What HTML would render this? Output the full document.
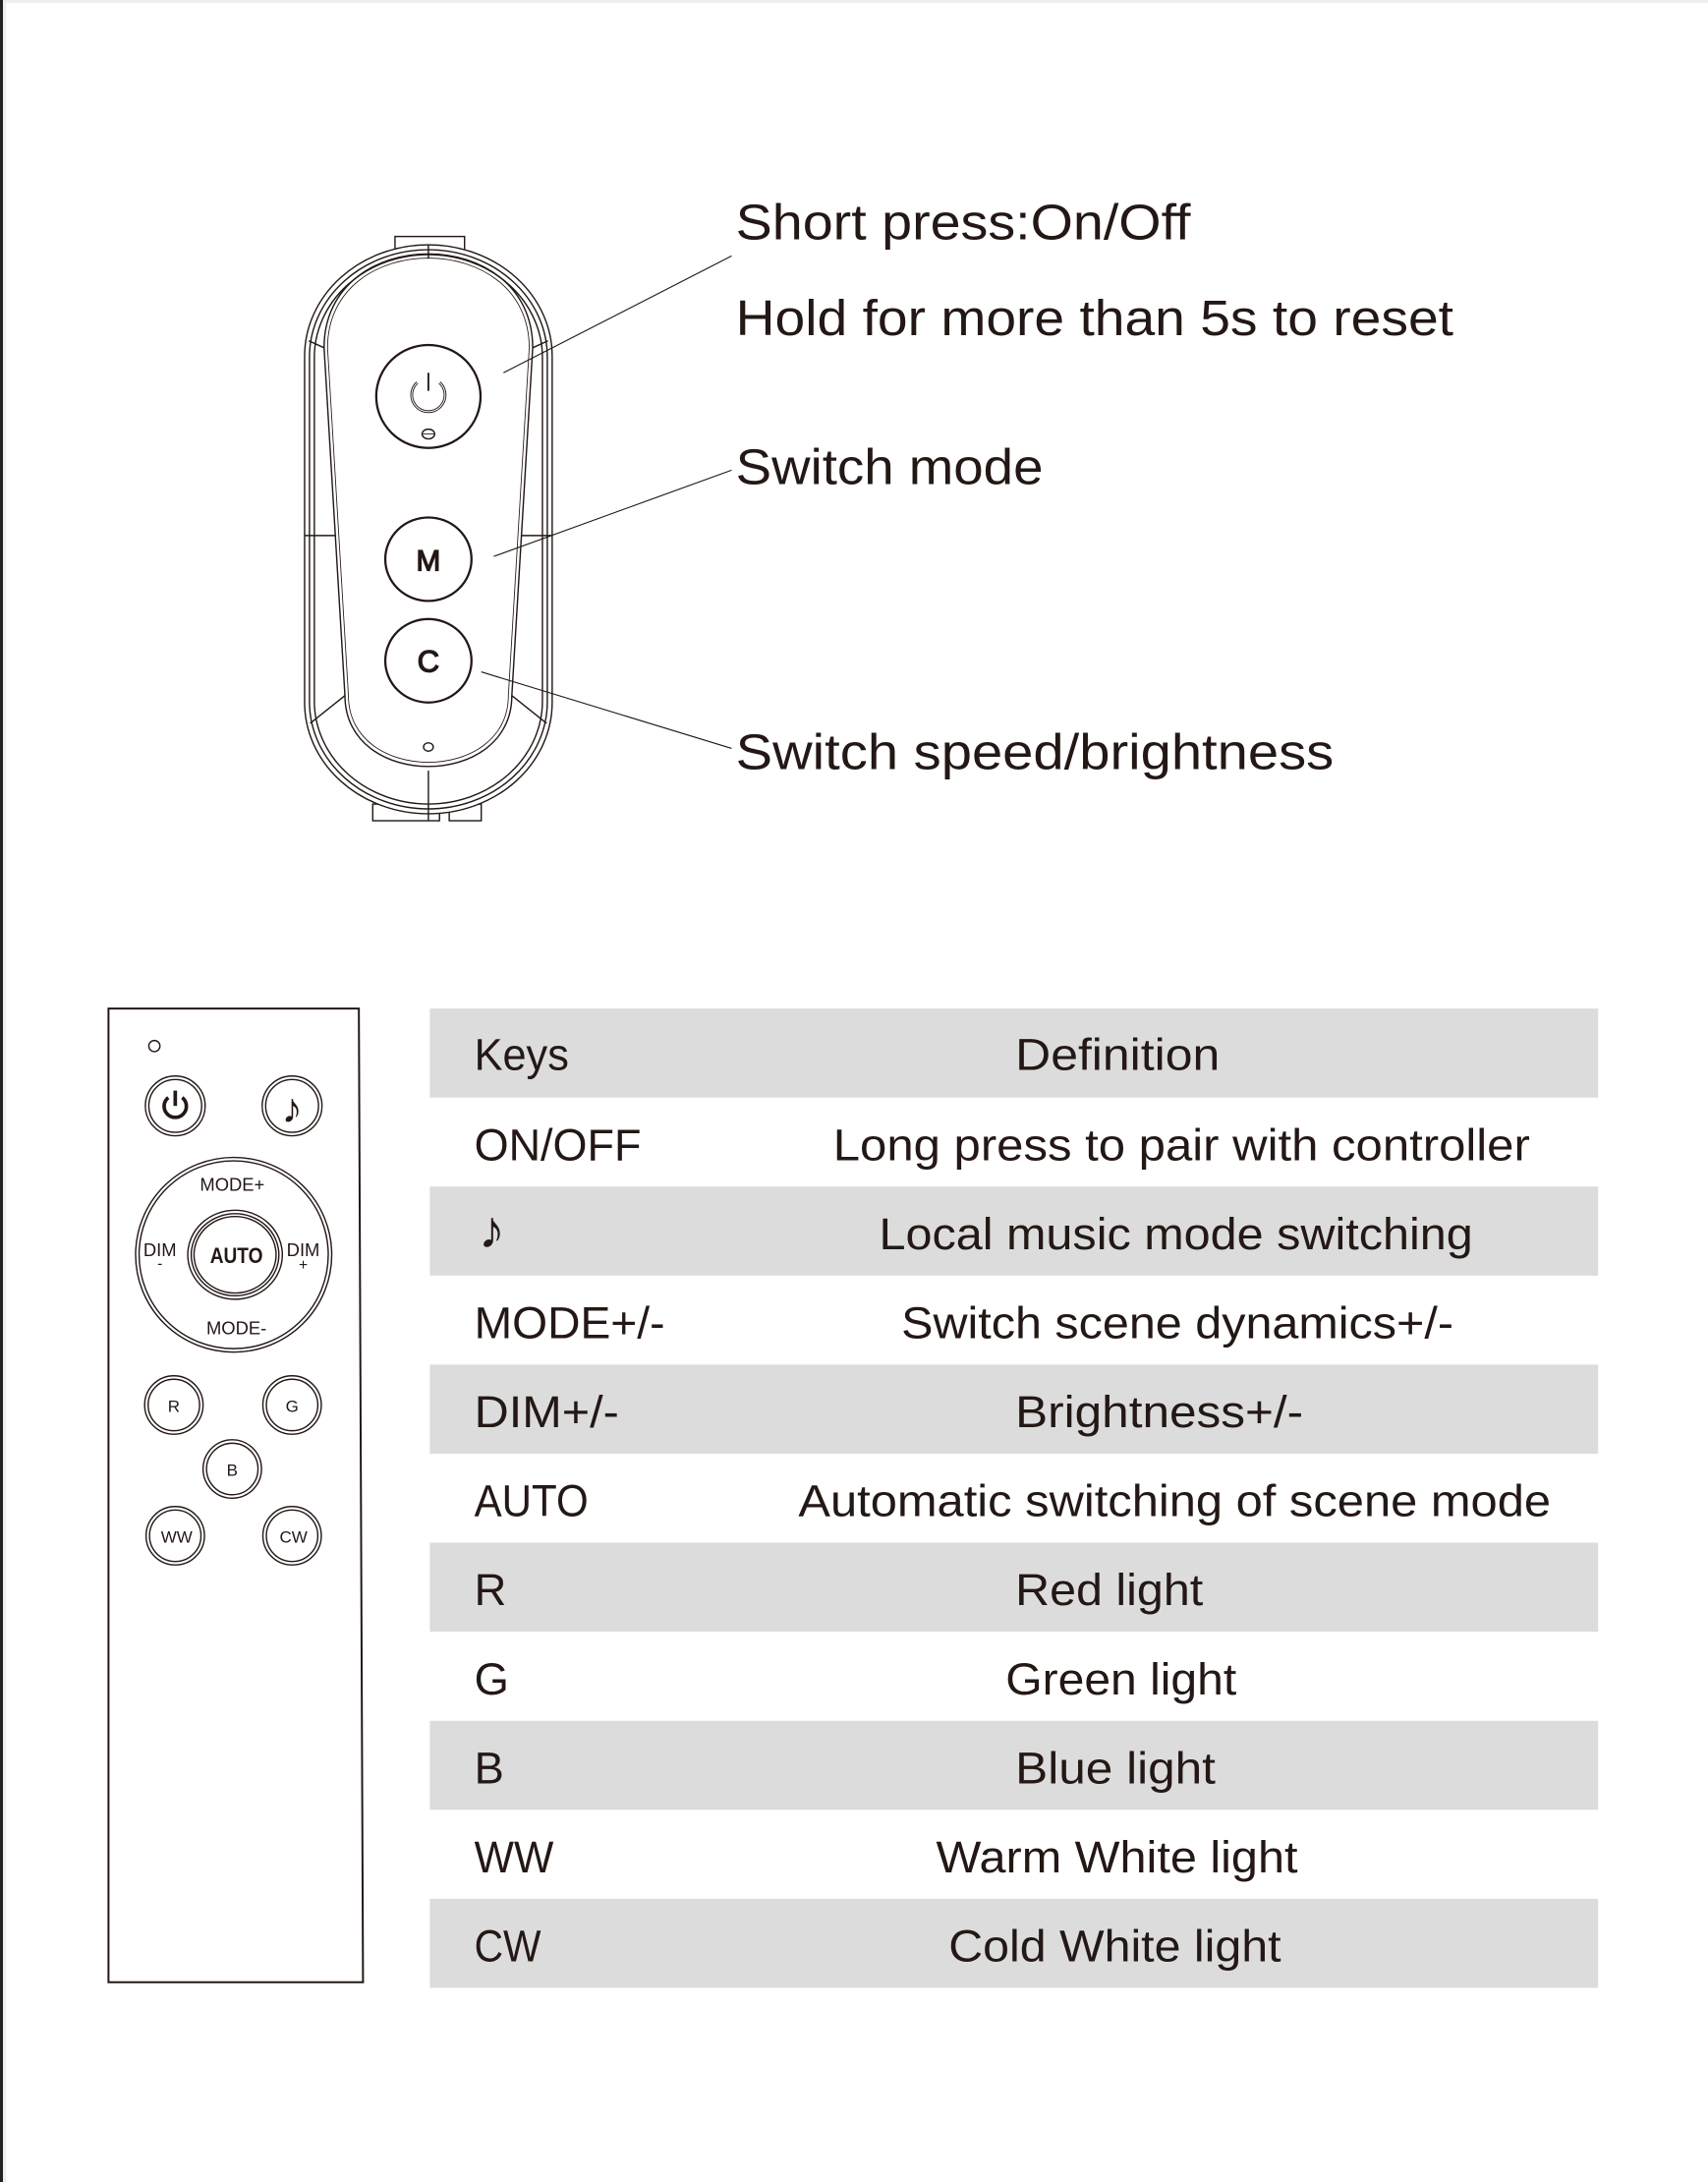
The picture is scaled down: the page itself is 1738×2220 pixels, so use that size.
<!DOCTYPE html>
<html><head><meta charset="utf-8"><style>
html,body{margin:0;padding:0;background:#fff;}
svg{display:block;}
text{font-family:"Liberation Sans","DejaVu Sans",sans-serif;fill:#231815;}
</style></head><body>
<svg width="1738" height="2220" viewBox="0 0 1738 2220" xmlns="http://www.w3.org/2000/svg">
<rect x="0" y="0" width="1738" height="2220" fill="#fff"/>
<rect x="0" y="0" width="1738" height="3" fill="#eee"/>
<rect x="0" y="0" width="3" height="2220" fill="#222"/>
<rect x="3" y="0" width="3" height="2220" fill="#eee"/>

<g transform="scale(1.4153)">
<!-- top remote -->
<g fill="none" stroke="#231815" stroke-width="1">
  <rect x="284" y="170" width="50" height="12" fill="#fff"/>
  <rect x="268" y="578" width="48" height="12" fill="#fff"/>
  <rect x="323" y="578" width="23" height="12" fill="#fff"/>
  <rect x="219" y="176" width="178" height="409" rx="89" ry="80" fill="#fff"/>
  <rect x="222.5" y="179.5" width="171" height="402" rx="85.5" ry="77"/>
  <rect x="226" y="183" width="164" height="395" rx="82" ry="74"/>
  <path d="M233,250 C233,160 383,160 383,250 L368,500 C368,568 248,568 248,500 Z"/>
  <path d="M235.5,250 C235.5,164 380.5,164 380.5,250 L365.5,500 C365.5,564 250.5,564 250.5,500 Z" stroke-width="0.6"/>
  <line x1="308" y1="176" x2="308" y2="186"/>
  <line x1="308" y1="554" x2="308" y2="590"/>
  <line x1="219" y1="385" x2="241" y2="385"/>
  <line x1="375" y1="385" x2="397" y2="385"/>
  <line x1="248" y1="500" x2="223" y2="520"/>
  <line x1="368" y1="500" x2="393" y2="520"/>
  <line x1="233" y1="250" x2="222" y2="245"/>
  <line x1="383" y1="250" x2="394" y2="245"/>
  <ellipse cx="308" cy="285" rx="37.5" ry="37" stroke-width="1.6"/>
  <path d="M300,275 A12,12 0 1 0 316,275" stroke-width="2"/>
  <path d="M300,275 A12,12 0 1 0 316,275" stroke="#fff" stroke-width="0.7"/>
  <line x1="308" y1="268" x2="308" y2="281" stroke-width="1.3"/>
  <ellipse cx="308" cy="312" rx="4.5" ry="3.5"/>
  <line x1="304" y1="312" x2="312" y2="312" stroke-width="0.6"/>
  <ellipse cx="308" cy="402" rx="31" ry="30" stroke-width="1.6"/>
  <ellipse cx="308" cy="475" rx="31" ry="30" stroke-width="1.6"/>
  <ellipse cx="308" cy="537" rx="3.5" ry="3"/>
</g>
<text x="308" y="410" font-size="21" text-anchor="middle" fill="none" stroke="#231815" stroke-width="0.9">M</text>
<text x="308" y="483" font-size="22" text-anchor="middle" fill="none" stroke="#231815" stroke-width="0.9">C</text>

<!-- leader lines -->
<g stroke="#231815" stroke-width="0.8">
  <line x1="526" y1="184" x2="362" y2="268"/>
  <line x1="526" y1="338" x2="355" y2="400"/>
  <line x1="526" y1="538" x2="346" y2="483"/>
</g>
<g font-size="36">
<text x="529" y="172" textLength="327" lengthAdjust="spacingAndGlyphs">Short press:On/Off</text>
<text x="529" y="241" textLength="516" lengthAdjust="spacingAndGlyphs">Hold for more than 5s to reset</text>
<text x="529" y="348" textLength="221" lengthAdjust="spacingAndGlyphs">Switch mode</text>
<text x="529" y="553" textLength="430" lengthAdjust="spacingAndGlyphs">Switch speed/brightness</text>
</g>

<!-- bottom remote -->
<g fill="none" stroke="#231815" stroke-width="1">
  <path d="M78,725 L258,725 L261,1425 L78,1425 Z" stroke-width="1.4"/>
  <circle cx="111" cy="752" r="4"/>
  <circle cx="126" cy="795" r="21.5"/><circle cx="126" cy="795" r="19"/>
  <circle cx="210" cy="795" r="21.5"/><circle cx="210" cy="795" r="19"/>
  <path d="M121,789 A8,8 0 1 0 131,789" stroke-width="2.6"/>
  <line x1="126" y1="784" x2="126" y2="795" stroke-width="2.6"/>
  <ellipse cx="168" cy="902" rx="70.5" ry="70"/>
  <ellipse cx="168" cy="902" rx="68" ry="67.5"/>
  <ellipse cx="169" cy="902" rx="34" ry="32"/>
  <ellipse cx="169" cy="902" rx="31.5" ry="29.5"/>
  <ellipse cx="169" cy="902" rx="29.5" ry="27.5"/>
  <circle cx="125" cy="1010" r="21"/><circle cx="125" cy="1010" r="18.5"/>
  <circle cx="210" cy="1010" r="21"/><circle cx="210" cy="1010" r="18.5"/>
  <circle cx="167" cy="1056" r="21"/><circle cx="167" cy="1056" r="18.5"/>
  <circle cx="126" cy="1104" r="21"/><circle cx="126" cy="1104" r="18.5"/>
  <circle cx="210" cy="1104" r="21"/><circle cx="210" cy="1104" r="18.5"/>
</g>
<text x="210" y="807" font-size="30" text-anchor="middle" fill="#000">♪</text>
<text x="167" y="856" font-size="13" text-anchor="middle">MODE+</text>
<text x="170" y="959" font-size="13" text-anchor="middle">MODE-</text>
<text x="115" y="903" font-size="13" text-anchor="middle">DIM</text>
<text x="115" y="912" font-size="11" text-anchor="middle">-</text>
<text x="218" y="903" font-size="13" text-anchor="middle">DIM</text>
<text x="218" y="913" font-size="11" text-anchor="middle">+</text>
<text x="170" y="908" font-size="16" font-weight="bold" text-anchor="middle" textLength="38" lengthAdjust="spacingAndGlyphs">AUTO</text>
<text x="125" y="1015" font-size="12" text-anchor="middle">R</text>
<text x="210" y="1015" font-size="12" text-anchor="middle">G</text>
<text x="167" y="1061" font-size="12" text-anchor="middle">B</text>
<text x="127" y="1109" font-size="12" text-anchor="middle">WW</text>
<text x="211" y="1109" font-size="12" text-anchor="middle">CW</text>

<!-- table -->
  <g fill="#dcdcdc">
    <rect x="309" y="725" width="840" height="64"/>
    <rect x="309" y="853" width="840" height="64"/>
    <rect x="309" y="981" width="840" height="64"/>
    <rect x="309" y="1109" width="840" height="64"/>
    <rect x="309" y="1237" width="840" height="64"/>
    <rect x="309" y="1365" width="840" height="64"/>
  </g>
  <g font-size="32">
    <text x="341" y="769" textLength="68" lengthAdjust="spacingAndGlyphs">Keys</text>
    <text x="730" y="769" textLength="147" lengthAdjust="spacingAndGlyphs">Definition</text>
    <text x="341" y="834" textLength="120" lengthAdjust="spacingAndGlyphs">ON/OFF</text>
    <text x="599" y="834" textLength="501" lengthAdjust="spacingAndGlyphs">Long press to pair with controller</text>
    <text x="344" y="897" font-size="38" fill="#000">♪</text>
    <text x="632" y="898" textLength="427" lengthAdjust="spacingAndGlyphs">Local music mode switching</text>
    <text x="341" y="962" textLength="137" lengthAdjust="spacingAndGlyphs">MODE+/-</text>
    <text x="648" y="962" textLength="397" lengthAdjust="spacingAndGlyphs">Switch scene dynamics+/-</text>
    <text x="341" y="1026" textLength="104" lengthAdjust="spacingAndGlyphs">DIM+/-</text>
    <text x="730" y="1026" textLength="207" lengthAdjust="spacingAndGlyphs">Brightness+/-</text>
    <text x="341" y="1090" textLength="82" lengthAdjust="spacingAndGlyphs">AUTO</text>
    <text x="574" y="1090" textLength="541" lengthAdjust="spacingAndGlyphs">Automatic switching of scene mode</text>
    <text x="341" y="1154">R</text>
    <text x="730" y="1154" textLength="135" lengthAdjust="spacingAndGlyphs">Red light</text>
    <text x="341" y="1218">G</text>
    <text x="723" y="1218" textLength="166" lengthAdjust="spacingAndGlyphs">Green light</text>
    <text x="341" y="1282">B</text>
    <text x="730" y="1282" textLength="144" lengthAdjust="spacingAndGlyphs">Blue light</text>
    <text x="341" y="1346" textLength="57" lengthAdjust="spacingAndGlyphs">WW</text>
    <text x="673" y="1346" textLength="260" lengthAdjust="spacingAndGlyphs">Warm White light</text>
    <text x="341" y="1410" textLength="48" lengthAdjust="spacingAndGlyphs">CW</text>
    <text x="682" y="1410" textLength="239" lengthAdjust="spacingAndGlyphs">Cold White light</text>
  </g>
</g>
</svg>
</body></html>
